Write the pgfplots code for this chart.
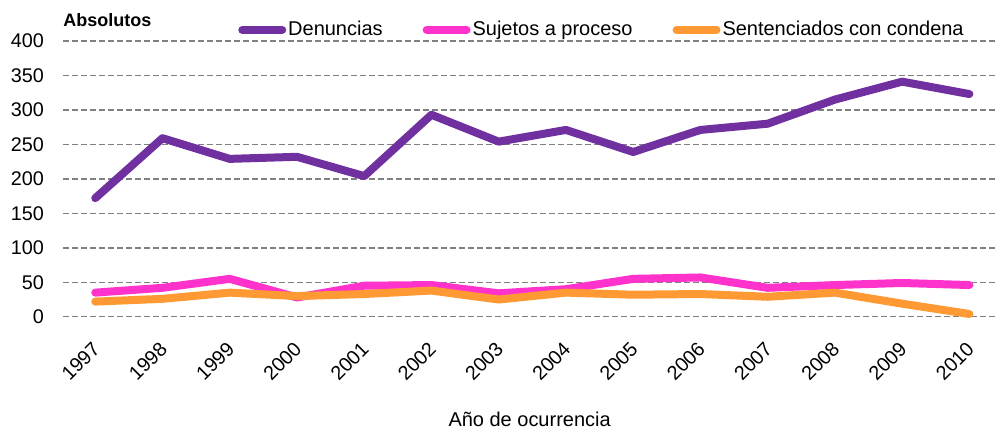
\documentclass[border=0pt]{standalone}
\usepackage{pgfplots}
\pgfplotsset{compat=1.18}
\usepackage{fontspec}
\setmainfont{Liberation Sans}
\definecolor{cpurple}{HTML}{7030A0}
\definecolor{cpink}{HTML}{FF33CC}
\definecolor{corange}{HTML}{FF9933}
\definecolor{cgrid}{HTML}{808080}
\begin{document}
\begin{tikzpicture}
\begin{axis}[
  name=ax,
  scale only axis,
  width=467pt, height=138pt,
  xmin=-0.48, xmax=13.4,
  ymin=0, ymax=400,
  clip=false,
  axis line style={draw=none},
  tick style={draw=none},
  ytick={0,50,...,400},
  xtick={0,...,13},
  xticklabels={1997,1998,1999,2000,2001,2002,2003,2004,2005,2006,2007,2008,2009,2010},
  ymajorgrids,
  grid style={cgrid, dashed, line width=0.7pt, dash pattern=on 3pt off 1.5pt},
  /pgf/number format/assume math mode=true,
  yticklabel style={font=\fontsize{9.9}{11}\selectfont, xshift=-6pt},
  xticklabel style={font=\fontsize{9.9}{11}\selectfont, yshift=-12pt, xshift=3pt, rotate=45, anchor=east},
  xlabel={Año de ocurrencia},
  xlabel style={font=\fontsize{10}{12}\selectfont, at={(axis description cs:0.5,0)}, anchor=base, yshift=-55pt},
  legend style={draw=none, fill=none, at={(axis description cs:0.5775,1.04)}, anchor=base, legend columns=3, font=\fontsize{10}{12}\selectfont, /tikz/every even column/.append style={column sep=19pt}, nodes={inner xsep=1pt}},
  legend image code/.code={\draw[#1, line cap=round] (0pt,0pt) -- (20pt,0pt);},
  legend cell align=left,
]
\addplot[cpurple, line width=4pt, line join=round, line cap=round] coordinates {
(0,172) (1,259) (2,229) (3,232) (4,204) (5,293) (6,254) (7,271) (8,239) (9,271) (10,280) (11,315) (12,341) (13,323)};
\addlegendentry{Denuncias}
\addplot[cpink, line width=4pt, line join=round, line cap=round] coordinates {
(0,35) (1,42) (2,55) (3,28) (4,45) (5,46) (6,34) (7,40) (8,55) (9,57) (10,42) (11,46) (12,49) (13,46)};
\addlegendentry{Sujetos a proceso}
\addplot[corange, line width=4pt, line join=round, line cap=round] coordinates {
(0,22) (1,26) (2,35) (3,30) (4,33) (5,38) (6,25) (7,35) (8,32) (9,33) (10,29) (11,35) (12,19) (13,4)};
\addlegendentry{Sentenciados con condena}
\end{axis}
\node[font=\bfseries\fontsize{9}{11}\selectfont, anchor=base west, inner sep=0pt] at ([shift={(0pt,145pt)}]ax.south west) {Absolutos};
\path[use as bounding box] ([shift={(-31.5pt,-60pt)}]ax.south west) rectangle ([shift={(467pt,158.5pt)}]ax.south west);
\end{tikzpicture}
\end{document}
